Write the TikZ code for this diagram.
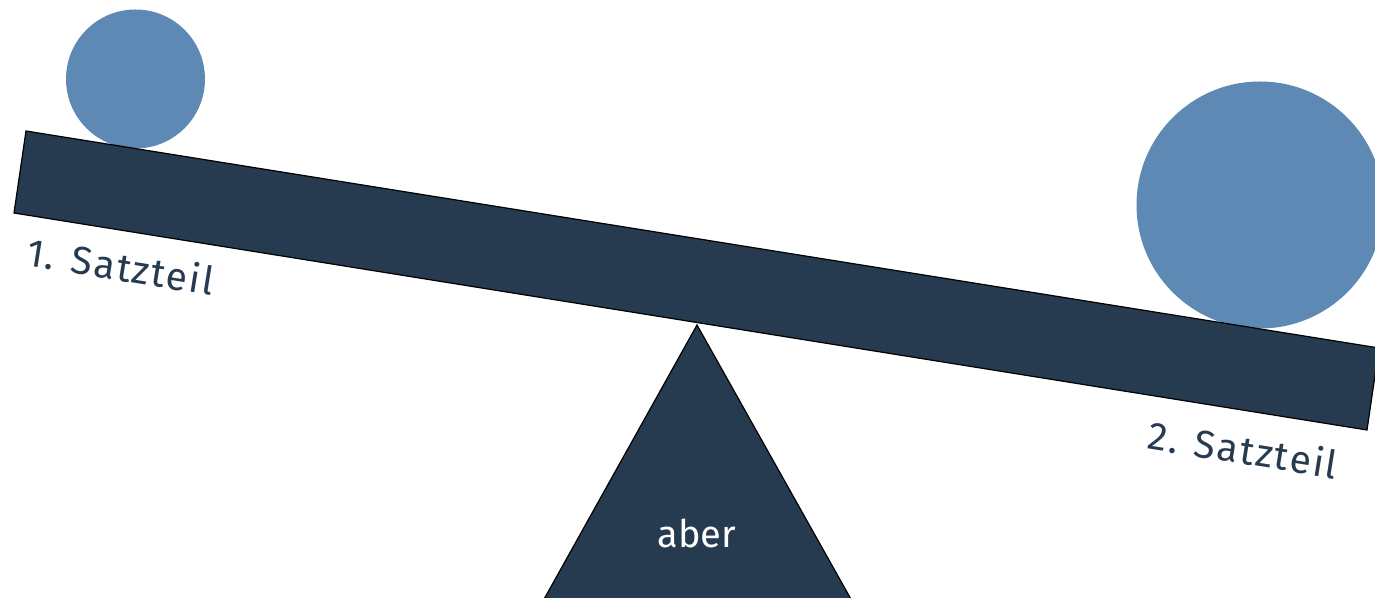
\documentclass[tikz,border=0pt]{standalone}
\usepackage{fontspec}
\setmainfont{Fira Sans}
\newfontfamily\lblfont[LetterSpace=5]{Fira Sans}
\definecolor{beamnavy}{HTML}{263A50}
\definecolor{weightblue}{HTML}{5E89B4}
\tikzset{
  plank/.style={fill=beamnavy, draw=black, line width=1.2pt, line join=miter},
  weight/.style={fill=weightblue, draw=none},
  lbl/.style={text=beamnavy, font=\lblfont\fontsize{39}{44}\selectfont, inner sep=0pt},
  midlbl/.style={text=white, font=\fontsize{38}{44}\selectfont, inner sep=0pt},
}
\begin{document}
\begin{tikzpicture}[x=1pt, y=1pt]
  \useasboundingbox (0,0) rectangle (1375,597);
  \clip (0,0) rectangle (1375,597);
  \fill[white] (0,0) rectangle (1375,597);
  % weights resting on the plank
  \fill[weight] (135.5,518) circle (69.5);
  \fill[weight] (1260,392) circle (123.5);
  % fulcrum
  \coordinate (apex) at (697,272);
  \coordinate (baseL) at (543,-4);
  \coordinate (baseR) at (852,-4);
  \draw[plank] (apex) -- (baseL) -- (baseR) -- cycle;
  % tilted plank
  \coordinate (tl) at (26,466);
  \coordinate (bl) at (14,384);
  \coordinate (br) at (1367,167);
  \coordinate (tr) at (1379,249);
  \draw[plank] (tl) -- (bl) -- (br) -- (tr) -- cycle;
  % labels
  \node[lbl, rotate=-9.1] (left) at (121,331) {1. Satzteil};
  \node[lbl, rotate=-9.1] (right) at (1243,148) {2. Satzteil};
  \node[midlbl] (mid) at (697,64) {aber};
\end{tikzpicture}
\end{document}
